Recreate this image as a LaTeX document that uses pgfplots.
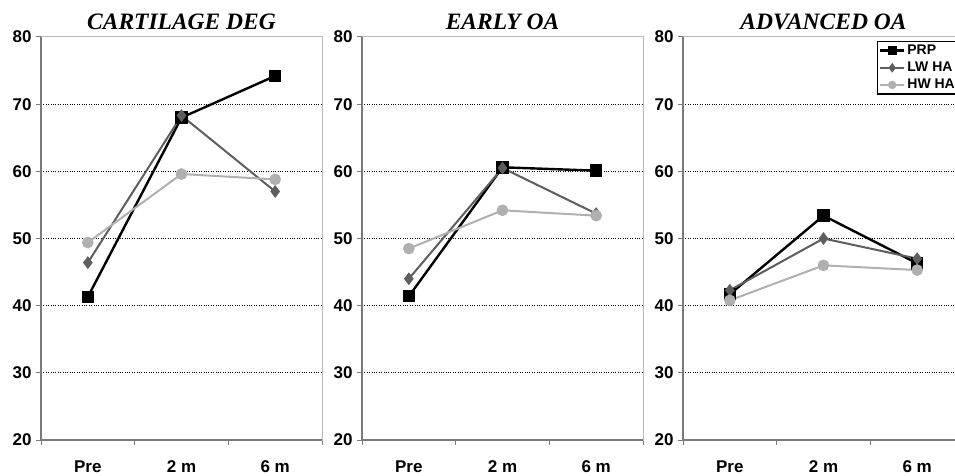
\documentclass[border=0pt]{standalone}
\usepackage{pgfplots}
\pgfplotsset{compat=1.18}
\usepackage{fontspec}
\setmainfont{Liberation Sans}
\newfontfamily\titlefont{Liberation Serif}
\definecolor{lwc}{HTML}{5E5E5E}
\definecolor{hwc}{HTML}{B0B0B0}
\definecolor{axc}{HTML}{7A7A7A}
\definecolor{frc}{HTML}{B8B8B8}
\pgfplotsset{
 panel/.style={
  scale only axis, width=281bp, height=403bp,
  anchor=south west, clip=false,
  xmin=-0.5, xmax=2.5, ymin=20, ymax=80,
  xtick={-0.5,0.5,1.5,2.5}, xticklabels={Pre,2 m,6 m}, x tick label as interval,
  ytick={20,30,...,80},
  extra y ticks={30,40,50,60,70}, extra y tick labels={},
  extra y tick style={ymajorgrids=true, major tick length=0pt},
  ytick pos=left, xtick pos=bottom, tick align=outside,
  major tick length=5bp,
  tick style={axc, line width=1bp},
  axis line style={frc, line width=1bp},
  grid style={black, dotted, line width=0.9bp},
  tick label style={font=\fontsize{17bp}{19bp}\selectfont\bfseries},
  /pgf/number format/assume math mode=true,
  yticklabel style={xshift=-1bp},
  xticklabel style={yshift=-12bp},
  title style={font=\titlefont\fontsize{23.5bp}{26bp}\selectfont\bfseries\itshape, at={(0.5,1)}, anchor=south, yshift=-2bp},
  after end axis/.code={\draw[axc, line width=1.3bp] (rel axis cs:0,1) -- (rel axis cs:0,0) -- (rel axis cs:1,0);},
  legend image code/.code={\draw[mark repeat=2,mark phase=2] plot coordinates {(0bp,0bp) (12bp,0bp) (24bp,0bp)};},
 },
 prp/.style={black, line width=2.4bp, mark=square*, mark size=5bp, mark options={solid}},
 lw/.style={lwc, line width=2bp, mark=diamond*, mark size=4.8bp, mark options={solid}},
 hw/.style={hwc, line width=2bp, mark=*, mark size=4.8bp, mark options={solid}},
}
\begin{document}
\begin{tikzpicture}
\useasboundingbox (0,0) rectangle (955bp,476bp);
\begin{axis}[panel, at={(41bp,36bp)}, title={CARTILAGE DEG}]
\addplot[prp] coordinates {(0,41.3) (1,68.0) (2,74.2)};
\addplot[lw] coordinates {(0,46.4) (1,68.3) (2,57.0)};
\addplot[hw] coordinates {(0,49.4) (1,59.6) (2,58.8)};
\end{axis}
\begin{axis}[panel, at={(362bp,36bp)}, title={EARLY OA}]
\addplot[prp] coordinates {(0,41.4) (1,60.6) (2,60.1)};
\addplot[lw] coordinates {(0,44.0) (1,60.5) (2,53.7)};
\addplot[hw] coordinates {(0,48.5) (1,54.2) (2,53.4)};
\end{axis}
\begin{axis}[panel, at={(683bp,36bp)}, title={ADVANCED OA},
  legend style={at={(0.69,0.99)}, anchor=north west, draw=black, line width=1.2bp,
   font=\fontsize{14bp}{16bp}\selectfont\bfseries, inner sep=1.5bp, row sep=2bp,
   /tikz/every even column/.append style={column sep=1bp}},
  legend image post style={mark size=3.2bp},
  legend cell align=left]
\addplot[prp] coordinates {(0,41.7) (1,53.4) (2,46.3)};
\addplot[lw] coordinates {(0,42.3) (1,50.0) (2,47.0)};
\addplot[hw] coordinates {(0,40.8) (1,46.0) (2,45.3)};
\legend{PRP,LW HA,HW HA}
\end{axis}
\end{tikzpicture}
\end{document}
